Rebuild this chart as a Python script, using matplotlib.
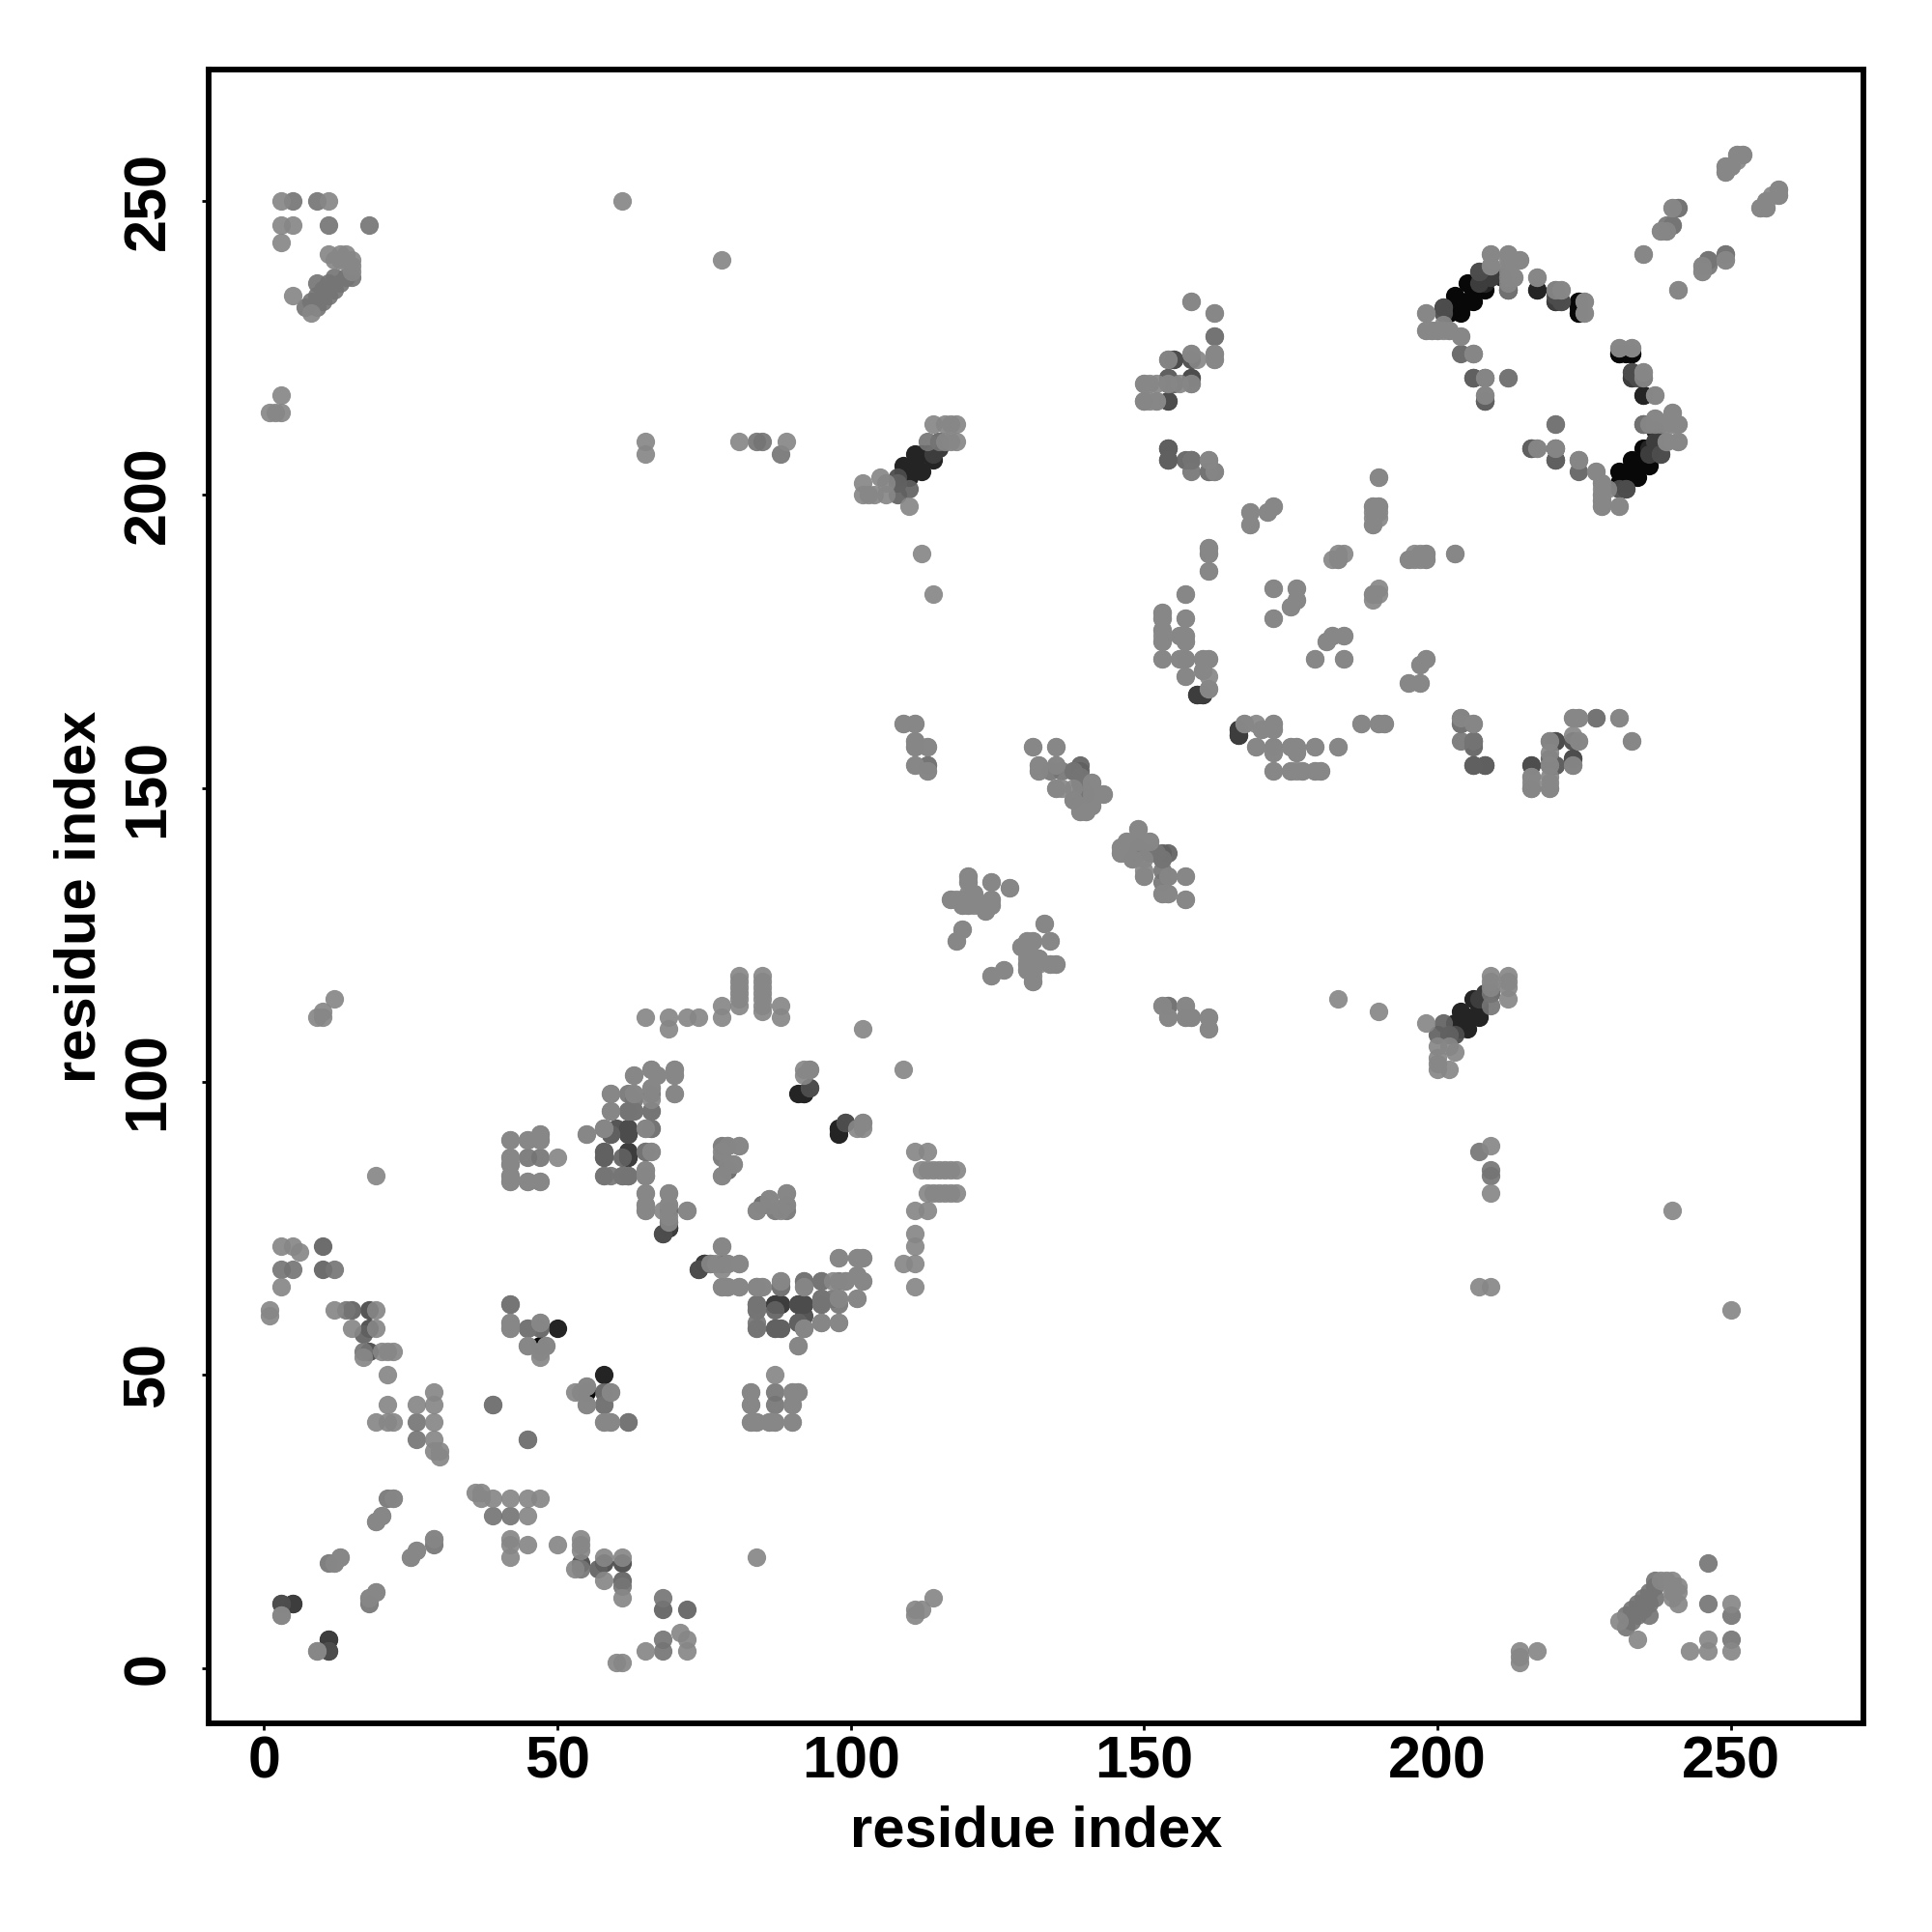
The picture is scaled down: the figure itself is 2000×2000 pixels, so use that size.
import matplotlib
matplotlib.use("Agg")
import matplotlib.pyplot as plt

# contacts (i < j) per grey level, drawn mirrored across the diagonal
shade_55 = [
    (19,84),(3,72),(5,72),(6,71),(3,65),(1,61),(1,60),(12,61),(19,61),(15,58),(19,58),(20,54),(21,54),(22,54),
    (17,53),(21,50),(21,45),(26,45),(29,47),(29,45),(19,42),(21,42),(22,42),(29,42),(29,39),(29,37),
    (42,59),(42,58),(47,59),(48,55),(45,55),(47,54),(55,48),(53,47),(55,45),(59,47),(58,42),(59,42),
    (20,26),(19,25),(29,22),(26,20),(25,19),(13,19),(12,18),(19,13),(18,12),(3,9),(9,3),(30,36),(30,37),
    (65,111),(69,111),(69,109),(72,111),(74,111),(78,111),(78,113),(81,118),(81,117),(81,116),(81,115),(81,114),(81,113),
    (85,118),(85,117),(85,116),(85,115),(85,114),(85,113),(85,112),(88,113),(88,111),(102,109),
    (42,90),(45,90),(47,91),(47,90),(42,87),(42,86),(42,84),(42,83),(45,83),(47,83),
    (55,91),(58,92),(65,92),(66,88),(65,85),(65,84),(59,98),(59,95),(63,101),(66,102),(67,101),(70,102),(70,101),(70,98),(63,98),(66,99),
    (65,81),(65,79),(65,78),(69,81),(69,79),(68,78),(72,78),(69,77),
    (81,89),(78,84),(79,86),(80,86),(84,78),(86,80),(89,81),(88,78),(89,79),(93,102),(102,93),(101,92),(102,92),
    (78,72),(76,69),(79,69),(81,69),(78,65),(79,65),(81,65),(84,65),(85,65),(88,66),(97,66),(99,66),(101,67),(102,66),(98,70),(101,70),(102,70),(101,63),(98,63),(98,59),(92,58),(91,55),
    (87,50),(83,47),(83,45),(83,42),(84,42),(86,42),(87,42),(90,42),(90,45),(90,47),(91,47),
    (131,157),(135,157),(132,154),(132,153),(135,150),(136,150),(141,151),(141,150),(143,149),(141,148),(139,147),(141,147),(139,146),(140,146),
    (149,143),(151,141),(147,141),(146,140),(149,141),(146,139),(148,138),(150,138),(150,135),(154,135),(157,135),(153,132),(154,132),(157,131),
    (120,135),(120,134),(124,134),(127,133),(117,131),(118,131),(120,132),(121,132),(121,131),(119,130),(120,130),(121,130),(124,131),(124,130),(123,129),
    (119,126),(118,124),(133,127),(134,124),(129,123),(130,124),(131,124),(130,122),(132,121),(130,120),(131,119),(135,120),(134,120),(130,119),(126,119),(124,118),(131,117),
    (153,113),(157,113),(154,111),(157,111),(158,111),(161,111),(161,109),(114,183),(112,190),(110,198),
    (158,233),(162,231),(162,224),(162,223),(158,224),(150,219),(151,219),(150,216),(151,216),(152,216),
    (190,203),(189,198),(190,198),(189,196),(189,195),(190,197),(168,197),(168,195),(171,197),(172,198),
    (161,191),(161,190),(161,187),(183,189),(184,190),(195,189),(196,190),(198,190),(198,189),(197,189),(203,190),
    (157,183),(157,179),(153,180),(153,179),(153,177),(153,175),(153,172),(156,176),(157,176),(157,175),(156,172),(157,169),(160,172),(161,172),(160,170),(161,167),
    (172,184),(176,184),(176,182),(175,181),(172,179),(189,183),(190,183),(189,182),(181,175),(182,176),(184,176),(179,172),(184,172),
    (198,172),(197,171),(195,168),(197,168),(187,161),(190,161),(191,161),
    (167,161),(169,161),(170,160),(172,161),(172,160),(169,157),(172,157),(172,156),(175,157),(176,157),(176,156),(179,157),(183,157),(172,153),(175,153),(176,153),(177,153),(179,153),(180,153),
    (204,162),(206,161),(216,152),(216,150),(219,156),(219,158),(219,154),(219,152),(219,150),(223,159),(224,158),(223,154),(223,162),(224,162),(231,162),(233,158),
    (251,258),(252,258),(249,256),(249,255),(250,256),(258,252),(258,251),(257,251),(256,250),(255,249),(256,249),(240,249),(238,245),(239,245),
    (235,241),(249,240),(245,238),(241,235),(198,231),(198,228),(199,228),(200,228),(201,228),(202,228),(204,227),(206,224),(208,220),
    (209,241),(209,239),(212,241),(212,239),(214,240),(213,237),(212,237),(217,237),(220,235),(221,235),(225,233),(225,231),
    (231,225),(233,225),(235,221),(237,217),(240,214),(236,212),(237,213),(238,212),(240,212),(241,212),(241,209),(239,209),
    (231,198),(228,198),(228,200),(228,199),(228,202),(227,204),(224,206),(217,208),(229,201),
    (114,212),(116,212),(117,212),(118,212),(118,209),(117,209),(116,209),(102,202),(102,200),(103,200),(104,200),(105,203),(106,200),(106,202),
    (109,161),(111,161),(113,157),(111,154),(113,153),
    (3,250),(11,250),(3,246),(5,246),(3,243),(5,234),(3,217),(1,214),(2,214),(3,214),(8,231),(15,238),(11,241),(13,241),(14,241),(15,240),(15,239),(14,240),(13,240),(12,240),
    (61,250),(78,240),(65,209),(65,207),(81,209),(89,209),(10,111),(9,111),(10,112),(12,114),
]
shade_48 = [
    (5,68),(3,68),(12,68),(14,61),(17,54),(26,42),(26,39),(39,45),(45,39),(42,62),(45,58),(58,45),(62,42),
    (21,29),(22,29),(11,18),(59,84),(61,84),(62,84),(65,88),(66,92),(62,95),(63,95),(66,95),(63,97),(66,98),(58,84),
    (78,89),(79,89),(78,87),(85,79),(84,65),(92,66),(92,65),(95,66),(95,63),(98,62),(84,62),(84,61),(84,58),(95,59),(87,47),(87,45),
    (138,153),(139,152),(139,151),(139,149),(138,148),(135,154),(136,153),(153,134),(151,139),(149,140),(154,113),
    (157,172),(158,206),(161,206),(162,227),(158,204),(154,219),(150,216),
    (204,161),(206,224),(212,220),(208,217),(220,212),(220,208),(246,240),(245,239),(249,241),(241,249),(239,246),(240,246),(235,212),
    (115,209),(113,209),(111,158),(111,157),(113,154),
    (9,250),(5,250),(11,246),(18,246),(7,232),(8,233),(9,232),(9,234),(10,233),(9,236),(10,235),(11,234),(11,236),(12,235),(12,237),(13,236),(14,237),(15,237),
    (84,209),(85,209),(88,207),
]
shade_40 = [
    (10,72),(10,68),(15,61),(17,57),(58,47),(58,92),(59,91),(58,88),(58,87),(61,87),(62,84),(85,79),(87,58),(88,58),
    (78,69),(88,65),(95,62),(91,59),(153,138),(153,139),(154,139),
    (154,206),(157,206),(154,223),(158,219),(155,219),(154,220),(162,204),(161,204),(154,206),(154,208),(204,224),(206,158),(216,208),(220,206),(208,216),
    (206,220),(108,202),(108,200),(110,201),(227,162),
]
shade_32 = [
    (3,11),(11,3),(18,61),(18,58),(18,54),(60,92),(62,92),(62,91),(69,76),(68,74),(74,68),(79,85),(93,99),(99,93),(108,203),
    (154,208),(158,223),(155,223),(158,220),(154,216),(216,154),(219,154),(220,154),(220,158),(223,155),(206,158),(206,154),(208,154),
    (201,232),(212,235),(221,233),(233,221),(235,220),(235,212),(238,207),(232,201),(231,201),(207,238),(220,234),
]
shade_24 = [
    (5,11),(11,5),(62,88),(62,87),(88,62),(87,62),(91,62),(92,62),(69,75),(115,208),(114,207),(115,209),
    (160,166),(159,166),(208,220),(208,216),(206,220),(209,237),(207,236),(220,233),
]
shade_14 = [
    (50,58),(92,98),(91,98),(98,92),(69,75),(75,69),(111,207),(113,207),(112,207),(109,205),(111,205),(112,204),(110,203),(109,204),(114,206),
    (166,160),(166,159),(217,235),(235,217),(233,220),(237,211),(236,208),
]
shade_03 = [
    (47,55),(202,231),(204,231),(204,233),(203,234),(203,232),(206,233),(205,233),(206,235),(208,235),(205,236),(208,236),(206,234),(202,232),
    (224,233),(224,231),(231,224),(233,224),(232,224),
]
shade_list = [shade_03, shade_14, shade_24, shade_32, shade_40, shade_48, shade_55]
shade_values = [0.03, 0.14, 0.24, 0.30, 0.38, 0.46, 0.53]
shade_alpha = [1, 1, 1, 0.95, 0.92, 0.92, 0.92]
ticks = [0, 50, 100, 150, 200, 250]

plt.rcParams['font.family'] = ['Liberation Sans', 'DejaVu Sans']
plt.rcParams['font.weight'] = 'bold'

fig = plt.figure(figsize=(10, 10), dpi=200)
ax = fig.add_axes([0.108, 0.108, 0.8563, 0.8561])

for pairs, g, a in zip(shade_list, shade_values, shade_alpha):
    xs = [p[0] for p in pairs] + [p[1] for p in pairs]
    ys = [p[1] for p in pairs] + [p[0] for p in pairs]
    ax.scatter(xs, ys, s=48, color=str(g), linewidths=0, alpha=a)

ax.set_xlim(-9.4, 272.5)
ax.set_ylim(-9.4, 272.5)
ax.set_xticks(ticks)
ax.set_yticks(ticks)
ax.tick_params(length=2.5, width=1, labelsize=22)
ax.tick_params(axis="x", pad=2)
ax.tick_params(axis="y", pad=9.4)
for lab in ax.get_yticklabels():
    lab.set_rotation(90)
    lab.set_va("center")
ax.set_xlabel("residue index", fontsize=21.5, fontweight="bold", labelpad=5.3)
ax.set_ylabel("residue index", fontsize=21.5, fontweight="bold", labelpad=5.4)
for s in ax.spines.values():
    s.set_linewidth(2.1)

fig.savefig("out.png", dpi=200)
